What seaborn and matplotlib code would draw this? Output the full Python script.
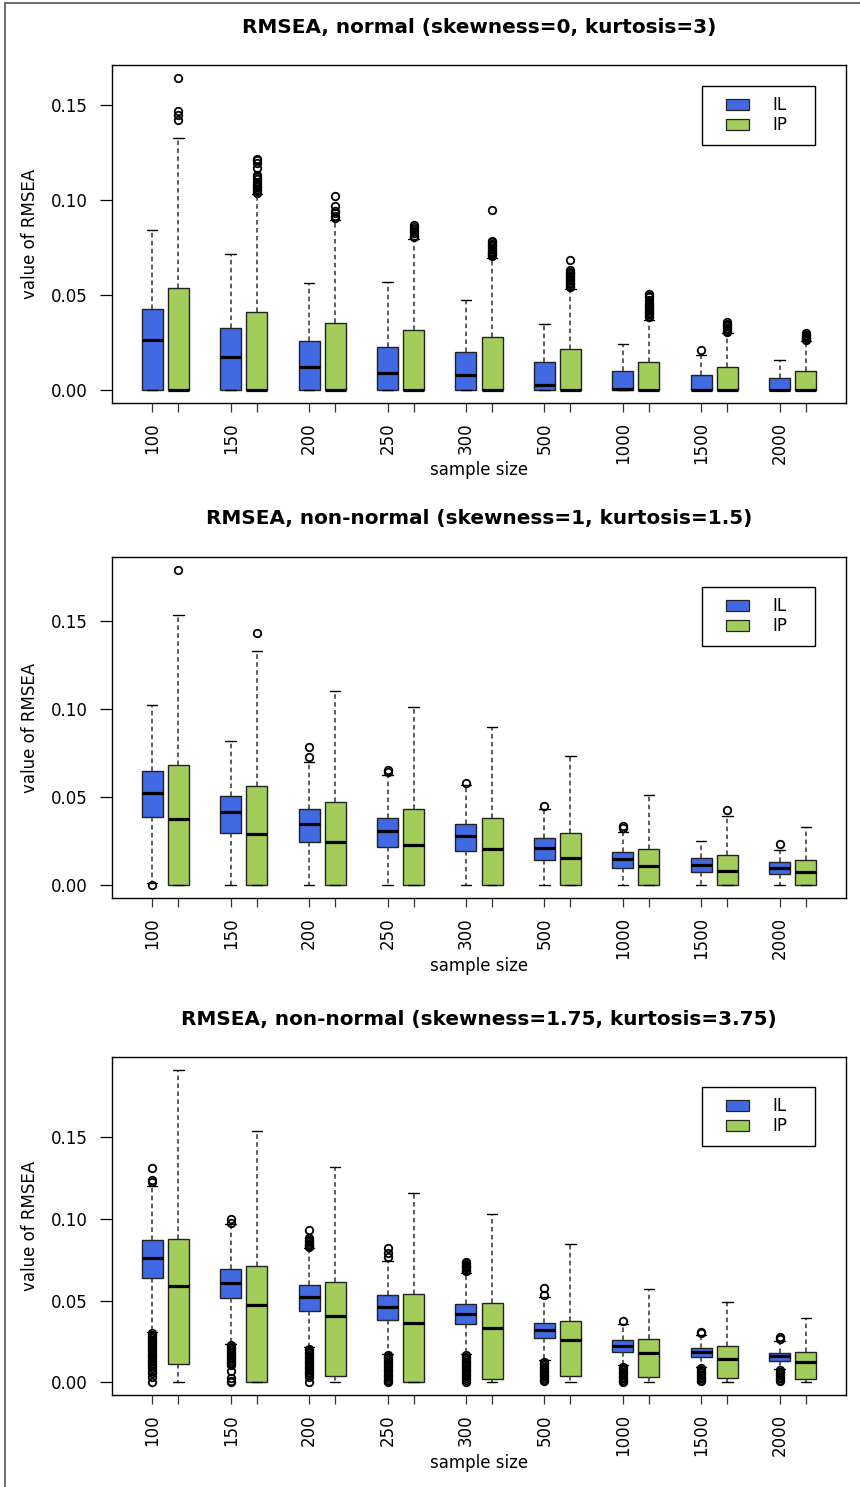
import matplotlib
matplotlib.use("Agg")
import matplotlib.pyplot as plt
import seaborn as sns
from matplotlib.patches import Patch, Rectangle
from matplotlib.lines import Line2D
from matplotlib.legend_handler import HandlerPatch

# ---------------- data ----------------
sizes = ["100", "150", "200", "250", "300", "500", "1000", "1500", "2000"]
methods = ["IL", "IP"]
titles = ["RMSEA, normal (skewness=0, kurtosis=3)",
          "RMSEA, non-normal (skewness=1, kurtosis=1.5)",
          "RMSEA, non-normal (skewness=1.75, kurtosis=3.75)"]
colors = ["#4169E1", "#A2CD5A"]
xlabel = "sample size"
ylabel = "value of RMSEA"

# Panel 1 : normal
p1_il_lo = [0, 0, 0, 0, 0, 0, 0, 0, 0]
p1_il_q1 = [0, 0, 0, 0, 0, 0, 0, 0, 0]
p1_il_med = [0.0268, 0.0178, 0.0125, 0.0093, 0.0083, 0.0030, 0.0010, 0.0, 0.0]
p1_il_q3 = [0.0431, 0.0326, 0.0262, 0.0227, 0.0204, 0.0151, 0.0104, 0.0083, 0.0067]
p1_il_hi = [0.0843, 0.0716, 0.0563, 0.0570, 0.0474, 0.0352, 0.0246, 0.0188, 0.0162]
p1_il_out = [[], [], [], [], [], [], [], [0.0213], []]

p1_ip_lo = [0, 0, 0, 0, 0, 0, 0, 0, 0]
p1_ip_q1 = [0, 0, 0, 0, 0, 0, 0, 0, 0]
p1_ip_med = [0, 0, 0, 0, 0, 0, 0, 0, 0]
p1_ip_q3 = [0.0540, 0.0415, 0.0357, 0.0320, 0.0280, 0.0216, 0.0151, 0.0121, 0.0104]
p1_ip_hi = [0.1329, 0.1033, 0.0896, 0.0796, 0.0699, 0.0535, 0.0373, 0.0303, 0.0259]
p1_ip_out = [
    [0.1646, 0.1470, 0.1447, 0.1424],
    [0.1218, 0.1210, 0.1195, 0.1170, 0.1135, 0.1124, 0.1112, 0.1095, 0.1085,
     0.1077, 0.1068, 0.1060, 0.1047, 0.1040],
    [0.1024, 0.0968, 0.0945, 0.0932, 0.0919, 0.0905],
    [0.0870, 0.0858, 0.0848, 0.0838, 0.0830, 0.0813, 0.0805],
    [0.0949, 0.0787, 0.0780, 0.0772, 0.0765, 0.0758, 0.0750, 0.0743, 0.0736,
     0.0730, 0.0723, 0.0716, 0.0710, 0.0705],
    [0.0685, 0.0632, 0.0625, 0.0618, 0.0610, 0.0602, 0.0595, 0.0588, 0.0580,
     0.0572, 0.0565, 0.0558, 0.0550, 0.0543],
    [0.0505, 0.0497, 0.0490, 0.0475, 0.0460, 0.0452, 0.0445, 0.0437, 0.0430,
     0.0422, 0.0415, 0.0407, 0.0400, 0.0392, 0.0385],
    [0.0359, 0.0352, 0.0345, 0.0338, 0.0330, 0.0322, 0.0315, 0.0308],
    [0.0300, 0.0294, 0.0288, 0.0282, 0.0276, 0.0270, 0.0264],
]

# Panel 2 : skewness=1, kurtosis=1.5
p2_il_lo = [0.0013, 0, 0, 0, 0, 0, 0, 0, 0]
p2_il_q1 = [0.0387, 0.0296, 0.0248, 0.0216, 0.0196, 0.0145, 0.0101, 0.0076, 0.0065]
p2_il_med = [0.0525, 0.0416, 0.0347, 0.0307, 0.0279, 0.0210, 0.0147, 0.0118, 0.0101]
p2_il_q3 = [0.0646, 0.0507, 0.0433, 0.0381, 0.0347, 0.0267, 0.0187, 0.0153, 0.0130]
p2_il_hi = [0.1020, 0.0818, 0.0700, 0.0624, 0.0570, 0.0433, 0.0303, 0.0253, 0.0202]
p2_il_out = [[0.0], [], [0.0785, 0.0727], [0.0652, 0.0645], [0.0582], [0.0450],
             [0.0338, 0.0324], [], [0.0233]]

p2_ip_lo = [0, 0, 0, 0, 0, 0, 0, 0, 0]
p2_ip_q1 = [0, 0, 0, 0, 0, 0, 0, 0, 0]
p2_ip_med = [0.0376, 0.0290, 0.0244, 0.0227, 0.0204, 0.0153, 0.0107, 0.0082, 0.0073]
p2_ip_q3 = [0.0685, 0.0561, 0.0473, 0.0433, 0.0381, 0.0296, 0.0204, 0.0170, 0.0145]
p2_ip_hi = [0.1531, 0.1331, 0.1100, 0.1014, 0.0900, 0.0732, 0.0515, 0.0393, 0.0330]
p2_ip_out = [[0.1790], [0.1428], [], [], [], [], [], [0.0427], []]

# Panel 3 : skewness=1.75, kurtosis=3.75
p3_il_lo = [0.0308, 0.0237, 0.0216, 0.0176, 0.0176, 0.0135, 0.0104, 0.0094, 0.0084]
p3_il_q1 = [0.0639, 0.0513, 0.0439, 0.0384, 0.0354, 0.0270, 0.0188, 0.0157, 0.0133]
p3_il_med = [0.0758, 0.0605, 0.0519, 0.0458, 0.0415, 0.0323, 0.0225, 0.0184, 0.0163]
p3_il_q3 = [0.0868, 0.0690, 0.0592, 0.0531, 0.0476, 0.0366, 0.0262, 0.0213, 0.0182]
p3_il_hi = [0.1197, 0.0968, 0.0819, 0.0743, 0.0670, 0.0523, 0.0355, 0.0288, 0.0255]
p3_il_out = [
    [0.1310, 0.1238, 0.1221,
     0.0300, 0.0290, 0.0280, 0.0270, 0.0260, 0.0250, 0.0240, 0.0230, 0.0220,
     0.0210, 0.0200, 0.0190, 0.0180, 0.0170, 0.0160, 0.0150, 0.0140, 0.0130,
     0.0120, 0.0110, 0.0100, 0.0090, 0.0070, 0.0057, 0.0035, 0.0],
    [0.0997, 0.0976,
     0.0228, 0.0218, 0.0208, 0.0198, 0.0188, 0.0178, 0.0168, 0.0158, 0.0148,
     0.0138, 0.0128, 0.0118, 0.0108, 0.0073, 0.0025, 0.0012, 0.0],
    [0.0930, 0.0880, 0.0872, 0.0864, 0.0856, 0.0848, 0.0840, 0.0832, 0.0826,
     0.0207, 0.0197, 0.0187, 0.0177, 0.0167, 0.0157, 0.0147, 0.0137, 0.0127,
     0.0117, 0.0107, 0.0097, 0.0087, 0.0077, 0.0067, 0.0057, 0.0047, 0.0033,
     0.0],
    [0.0819, 0.0789, 0.0768,
     0.0168, 0.0158, 0.0148, 0.0138, 0.0128, 0.0118, 0.0108, 0.0098, 0.0088,
     0.0078, 0.0068, 0.0058, 0.0048, 0.0038, 0.0028, 0.0018, 0.0008, 0.0],
    [0.0737, 0.0728, 0.0720, 0.0712, 0.0704, 0.0696, 0.0688, 0.0680,
     0.0168, 0.0158, 0.0148, 0.0138, 0.0128, 0.0118, 0.0108, 0.0098, 0.0088,
     0.0078, 0.0068, 0.0058, 0.0048, 0.0038, 0.0028, 0.0018, 0.0],
    [0.0574, 0.0533,
     0.0127, 0.0117, 0.0107, 0.0097, 0.0087, 0.0077, 0.0067, 0.0057, 0.0047,
     0.0037, 0.0027, 0.0017, 0.0007],
    [0.0374,
     0.0096, 0.0086, 0.0076, 0.0066, 0.0056, 0.0046, 0.0036, 0.0026, 0.0016,
     0.0006, 0.0],
    [0.0310, 0.0302,
     0.0086, 0.0076, 0.0066, 0.0056, 0.0046, 0.0036, 0.0026, 0.0016, 0.0006],
    [0.0275, 0.0266,
     0.0076, 0.0066, 0.0056, 0.0046, 0.0036, 0.0026, 0.0016, 0.0006],
]

p3_ip_lo = [0, 0, 0, 0, 0, 0, 0, 0, 0]
p3_ip_q1 = [0.0114, 0.0, 0.0041, 0.0, 0.0023, 0.0041, 0.0035, 0.0029, 0.0023]
p3_ip_med = [0.0586, 0.0470, 0.0403, 0.0366, 0.0335, 0.0257, 0.0182, 0.0145, 0.0127]
p3_ip_q3 = [0.0874, 0.0709, 0.0611, 0.0541, 0.0488, 0.0378, 0.0268, 0.0220, 0.0188]
p3_ip_hi = [0.1910, 0.1536, 0.1315, 0.1156, 0.1027, 0.0844, 0.0572, 0.0494, 0.0396]
p3_ip_out = [[], [], [], [], [], [], [], [], []]

panels = [
    ((p1_il_lo, p1_il_q1, p1_il_med, p1_il_q3, p1_il_hi, p1_il_out),
     (p1_ip_lo, p1_ip_q1, p1_ip_med, p1_ip_q3, p1_ip_hi, p1_ip_out)),
    ((p2_il_lo, p2_il_q1, p2_il_med, p2_il_q3, p2_il_hi, p2_il_out),
     (p2_ip_lo, p2_ip_q1, p2_ip_med, p2_ip_q3, p2_ip_hi, p2_ip_out)),
    ((p3_il_lo, p3_il_q1, p3_il_med, p3_il_q3, p3_il_hi, p3_il_out),
     (p3_ip_lo, p3_ip_q1, p3_ip_med, p3_ip_q3, p3_ip_hi, p3_ip_out)),
]

# ---------------- style ----------------
sns.set_theme(style="white")
plt.rcParams['font.family'] = ['DejaVu Sans']
plt.rcParams['axes.edgecolor'] = 'black'
plt.rcParams['axes.linewidth'] = 1.0
plt.rcParams['text.color'] = 'black'
plt.rcParams['axes.labelcolor'] = 'black'
plt.rcParams['xtick.color'] = 'black'
plt.rcParams['ytick.color'] = 'black'

W, H = 860, 1487
fig = plt.figure(figsize=(W / 100, H / 100), dpi=100)
fig.patch.set_facecolor('white')

# (left, top, right, bottom) in pixels
axes_px = [(112, 65, 846, 403), (112, 557, 846, 898), (112, 1057, 846, 1395)]
title_y = [27, 519, 1019]
xlab_y = [470, 966, 1463]
legend_top = [86, 587, 1087]


def narrow_rect(legend, orig_handle, xdescent, ydescent, width, height, fontsize):
    w = width * 0.62
    return Rectangle((-xdescent + width - w, -ydescent), w, height)


for k, (il, ip) in enumerate(panels):
    l, t, r, b = axes_px[k]
    ax = fig.add_axes([l / W, 1 - b / H, (r - l) / W, (b - t) / H])

    stats, pos, cols = [], [], []
    allvals = []
    for g in range(len(sizes)):
        for m, series in enumerate((il, ip)):
            lo, q1, med, q3, hi, out = series
            stats.append(dict(whislo=lo[g], q1=q1[g], med=med[g], q3=q3[g],
                              whishi=hi[g], fliers=out[g]))
            pos.append(1 + 3 * g + m)
            cols.append(colors[m])
            allvals += [lo[g], hi[g]] + list(out[g])

    res = ax.bxp(stats, positions=pos, widths=0.8, capwidths=0.4,
                 patch_artist=True, showfliers=True, manage_ticks=False,
                 boxprops=dict(linewidth=1.0, edgecolor='#222222'),
                 medianprops=dict(color='black', linewidth=2.3,
                                  solid_capstyle='butt'),
                 whiskerprops=dict(color='#333333', linewidth=1.1,
                                   linestyle=(0, (3, 2.2))),
                 capprops=dict(color='black', linewidth=1.0),
                 flierprops=dict(marker='o', markerfacecolor='none',
                                 markeredgecolor='black', markersize=5.4,
                                 markeredgewidth=1.3, linestyle='none'))
    for patch, c in zip(res['boxes'], cols):
        patch.set_facecolor(c)

    # R-like axis ranges (4% extension)
    xr = (min(pos) - 0.5, max(pos) + 0.5)
    dx = (xr[1] - xr[0]) * 0.04
    ax.set_xlim(xr[0] - dx, xr[1] + dx)
    ymin, ymax = min(allvals), max(allvals)
    dy = (ymax - ymin) * 0.04
    ax.set_ylim(ymin - dy, ymax + dy)

    ax.set_xticks(pos)
    ax.set_xticklabels([s if p % 3 == 1 else "" for p, s in
                        zip(pos, [sizes[i // 2] for i in range(len(pos))])],
                       rotation=90, fontsize=12)
    ax.set_yticks([0.0, 0.05, 0.10, 0.15])
    ax.set_yticklabels(["0.00", "0.05", "0.10", "0.15"], fontsize=12)
    ax.tick_params(axis='x', direction='out', length=6.5, width=0.9,
                   pad=7.2, color='#333333', labelcolor='black', bottom=True)
    ax.tick_params(axis='y', direction='out', length=8.4, width=0.9,
                   pad=9.0, color='black', labelcolor='black', left=True)
    for sp in ax.spines.values():
        sp.set_visible(True)
        sp.set_color('black')
        sp.set_linewidth(1.0)
    ax.grid(False)

    handles = [Patch(facecolor=colors[0], edgecolor='#222222', linewidth=0.9),
               Patch(facecolor=colors[1], edgecolor='#222222', linewidth=0.9)]
    lx0 = (702 - l) / (r - l)
    lw_ = (815 - 702) / (r - l)
    ly = (b - legend_top[k]) / (b - t)
    leg = ax.legend(handles, methods, loc='upper left',
                    bbox_to_anchor=(lx0, ly - 0.3, lw_, 0.3), mode='expand',
                    borderaxespad=0, fontsize=12, frameon=True, fancybox=False,
                    handlelength=2.2, handleheight=0.6, handletextpad=1.4,
                    borderpad=0.62, labelspacing=0.12,
                    handler_map={Patch: HandlerPatch(patch_func=narrow_rect)})
    leg.get_frame().set_edgecolor('black')
    leg.get_frame().set_linewidth(1.0)
    leg.get_frame().set_alpha(1)
    for txt in leg.get_texts():
        txt.set_color('black')

    fig.text((l + r) / 2 / W, 1 - title_y[k] / H, titles[k], ha='center',
             va='center', fontsize=14.4, fontweight='bold', color='black')
    fig.text((l + r) / 2 / W, 1 - xlab_y[k] / H, xlabel, ha='center',
             va='center', fontsize=12, color='black')
    fig.text(30 / W, 1 - (t + b) / 2 / H, ylabel, ha='center', va='center',
             rotation=90, fontsize=12, color='black')

# outer frame lines (left and top)
fig.add_artist(Line2D([5 / W, 5 / W], [0, 1 - 3 / H], transform=fig.transFigure,
                      color='#555555', linewidth=1.2))
fig.add_artist(Line2D([5 / W, 1], [1 - 3 / H, 1 - 3 / H],
                      transform=fig.transFigure, color='#555555', linewidth=1.2))

fig.savefig("out.png", dpi=100)
